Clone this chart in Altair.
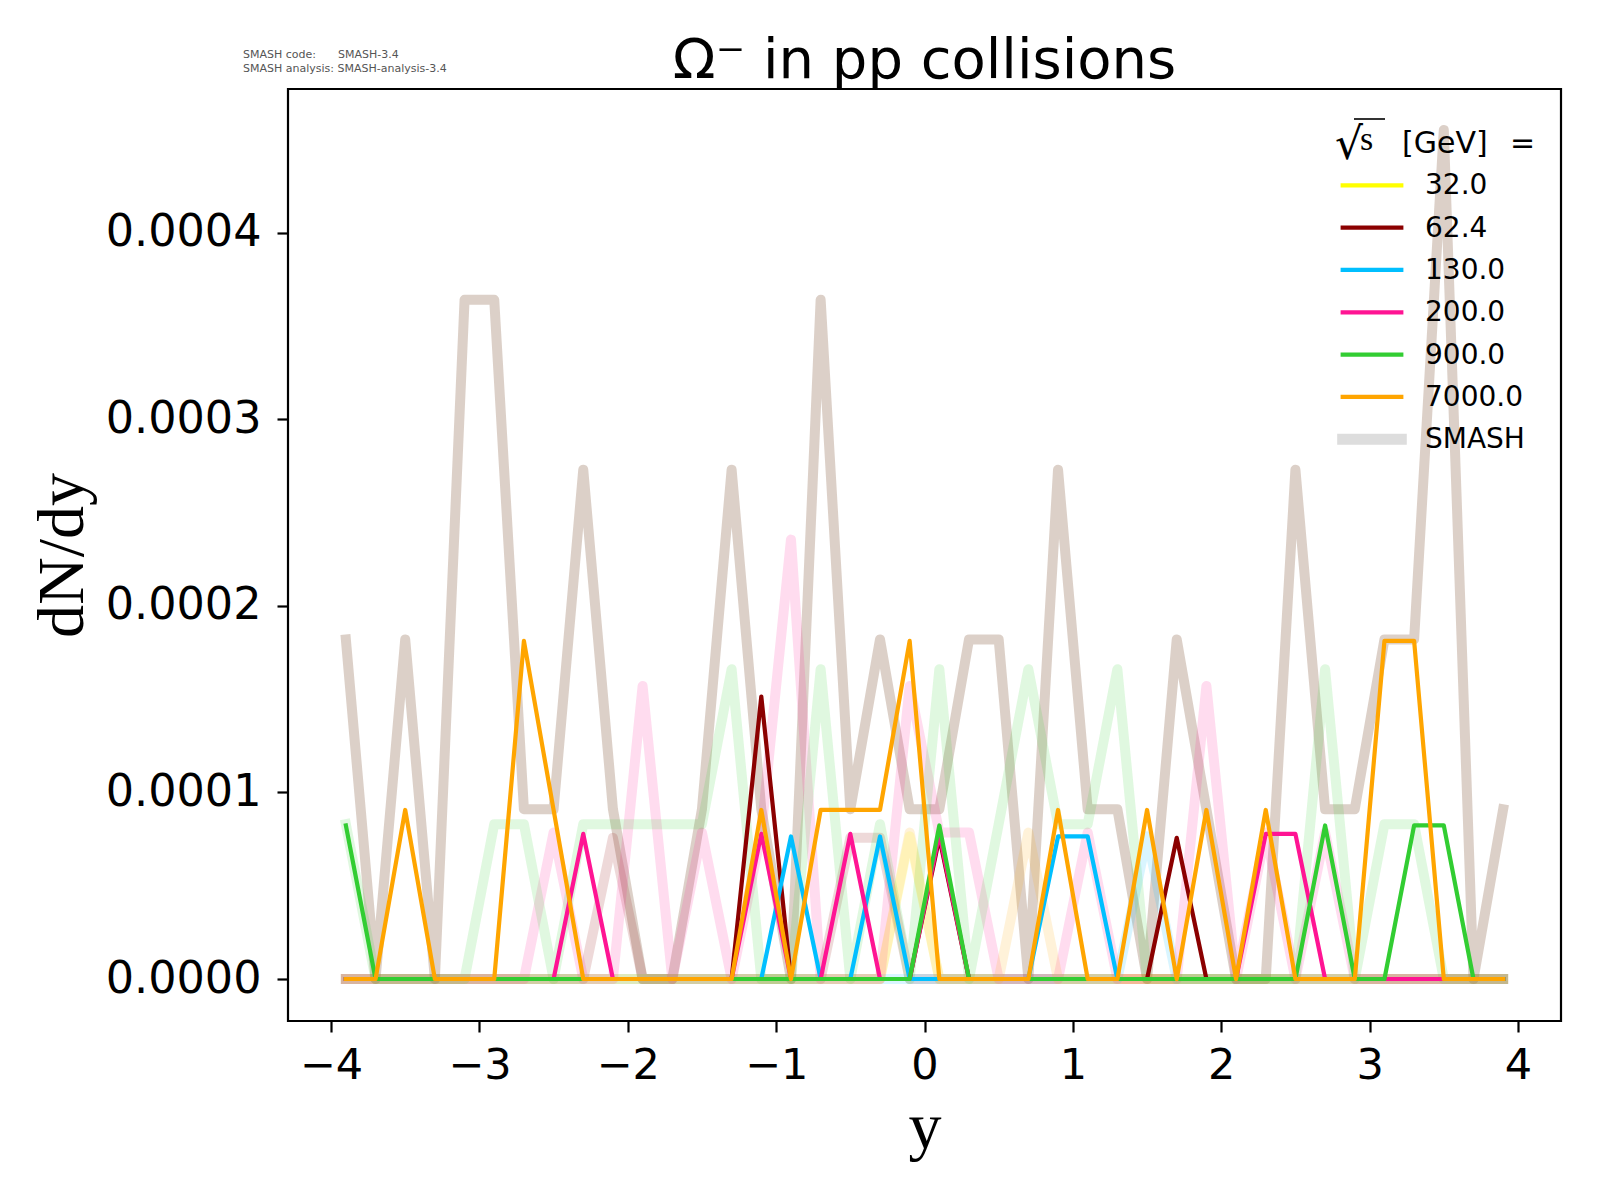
import altair as alt
import pandas as pd

# ---------------- data ----------------
rapidity = [-3.9, -3.7, -3.5, -3.3, -3.1, -2.9, -2.7, -2.5, -2.3, -2.1,
            -1.9, -1.7, -1.5, -1.3, -1.1, -0.9, -0.7, -0.5, -0.3, -0.1,
            0.1, 0.3, 0.5, 0.7, 0.9, 1.1, 1.3, 1.5, 1.7, 1.9,
            2.1, 2.3, 2.5, 2.7, 2.9, 3.1, 3.3, 3.5, 3.7, 3.9]

# thin lines (one per energy)
thin_32 = [0, 0, 0, 0, 0, 0, 0, 0, 0, 0,
           0, 0, 0, 0, 0, 0, 0, 0, 0, 0,
           0, 0, 0, 0, 0, 0, 0, 0, 0, 0,
           0, 0, 0, 0, 0, 0, 0, 0, 0, 0]
thin_62 = [0, 0, 0, 0, 0, 0, 0, 0, 0, 0,
           0, 0, 0, 0, 0.0001514, 0, 0, 0, 0, 0,
           0.0000757, 0, 0, 0, 0, 0, 0, 0, 0.0000757, 0,
           0, 0, 0, 0, 0, 0, 0, 0, 0, 0]
thin_130 = [0, 0, 0, 0, 0, 0, 0, 0, 0, 0,
            0, 0, 0, 0, 0, 0.0000764, 0, 0, 0.0000764, 0,
            0, 0, 0, 0, 0.0000764, 0.0000764, 0, 0, 0, 0,
            0, 0, 0, 0, 0, 0, 0, 0, 0, 0]
thin_200 = [0, 0, 0, 0, 0, 0, 0, 0, 0.0000778, 0,
            0, 0, 0, 0, 0.0000778, 0, 0, 0.0000778, 0, 0,
            0.0000778, 0, 0, 0, 0, 0, 0, 0, 0, 0,
            0, 0.0000778, 0.0000778, 0, 0, 0, 0, 0, 0, 0]
thin_900 = [0.0000823, 0, 0, 0, 0, 0, 0, 0, 0, 0,
            0, 0, 0, 0, 0, 0, 0, 0, 0, 0,
            0.0000823, 0, 0, 0, 0, 0, 0, 0, 0, 0,
            0, 0, 0, 0.0000823, 0, 0, 0.0000823, 0.0000823, 0, 0]
thin_7000 = [0, 0, 0.0000906, 0, 0, 0, 0.0001812, 0.0000906, 0, 0,
             0, 0, 0, 0, 0.0000906, 0, 0.0000906, 0.0000906, 0.0000906, 0.0001812,
             0, 0, 0, 0, 0.0000906, 0, 0, 0.0000906, 0, 0.0000906,
             0, 0.0000906, 0, 0, 0, 0.0001812, 0.0001812, 0, 0, 0]

# thick faded lines
thick_tan = [0.000182, 0, 0.000182, 0, 0.000364, 0.000364, 0.000091, 0.000091, 0.000273, 0.000091,
             0, 0, 0.000091, 0.000273, 0.000091, 0, 0.000364, 0.000091, 0.000182, 0.000091,
             0.000091, 0.000182, 0.000182, 0, 0.000273, 0.000091, 0.000091, 0, 0.000182, 0.000091,
             0, 0, 0.000273, 0.000091, 0.000091, 0.000182, 0.000182, 0.000455, 0, 0.000091]
thick_900 = [0.000083, 0, 0, 0, 0, 0.000083, 0.000083, 0, 0.000083, 0.000083,
             0.000083, 0.000083, 0.000083, 0.000166, 0, 0, 0.000166, 0, 0.000083, 0,
             0.000166, 0, 0.000083, 0.000166, 0.000083, 0.000083, 0.000166, 0, 0, 0,
             0, 0, 0, 0.000166, 0, 0.000083, 0.000083, 0, 0, 0]
thick_200 = [0, 0, 0, 0, 0, 0, 0, 0.0000785, 0, 0,
             0.000157, 0, 0.0000785, 0, 0.0000785, 0.0002355, 0, 0, 0, 0.000157,
             0.0000785, 0.0000785, 0, 0, 0, 0.0000785, 0, 0, 0, 0.000157,
             0, 0.0000785, 0, 0.0000785, 0, 0, 0, 0, 0, 0]
thick_62 = [0, 0, 0, 0, 0, 0, 0, 0, 0, 0.0000757,
            0, 0, 0, 0, 0, 0, 0, 0.0000757, 0.0000757, 0,
            0, 0, 0, 0, 0, 0, 0, 0, 0, 0,
            0, 0, 0, 0, 0, 0, 0, 0, 0, 0]
thick_32 = [0, 0, 0, 0, 0, 0, 0, 0, 0, 0,
            0, 0, 0, 0, 0, 0, 0, 0, 0, 0.0000765,
            0, 0, 0, 0, 0, 0, 0, 0, 0, 0,
            0, 0, 0, 0, 0, 0, 0, 0, 0, 0]
thick_7000 = [0, 0, 0, 0, 0, 0, 0, 0, 0, 0,
              0, 0, 0, 0, 0, 0, 0, 0, 0, 0.0000785,
              0, 0, 0, 0.0000785, 0, 0, 0, 0, 0, 0,
              0, 0, 0, 0, 0, 0, 0, 0, 0, 0]
thick_130 = [0, 0, 0, 0, 0, 0, 0, 0, 0, 0,
             0, 0, 0, 0, 0, 0, 0, 0, 0, 0,
             0, 0, 0, 0, 0, 0, 0, 0.0000765, 0, 0,
             0, 0, 0, 0, 0, 0, 0, 0, 0, 0]

x_ticks = [-4, -3, -2, -1, 0, 1, 2, 3, 4]
y_ticks = [0.0, 0.0001, 0.0002, 0.0003, 0.0004]

legend_labels = ["32.0", "62.4", "130.0", "200.0", "900.0", "7000.0", "SMASH"]
legend_colors = ["#ffff00", "#8b0000", "#00bfff", "#ff1493", "#32cd32", "#ffa500", "#dddddd"]

# ---------------- encodings ----------------
X = alt.X("rapidity:Q",
          scale=alt.Scale(domain=[-4.29, 4.29], nice=False, zero=False),
          axis=alt.Axis(values=x_ticks, format="d", title="y",
                        labelPadding=12, labelFontSize=43, titleX=636.5, titleY=126,
                        titleBaseline="alphabetic", titleAlign="center"))
Y = alt.Y("dNdy:Q",
          scale=alt.Scale(domain=[-0.0000225, 0.000477], nice=False, zero=False),
          axis=alt.Axis(values=y_ticks, format=".4f", title="dN/dy",
                        labelPadding=16, labelFontSize=44.5, titleAngle=270, titleX=-206, titleY=466,
                        titleBaseline="alphabetic", titleAlign="center"))


def line_layer(values, color, width, opacity=1.0):
    df = pd.DataFrame({"rapidity": rapidity, "dNdy": values})
    return alt.Chart(df).mark_line(
        color=color, strokeWidth=width, opacity=opacity,
        strokeCap="square", strokeJoin="round"
    ).encode(x=X, y=Y)


THICK = 10
THIN = 4.2
data_layers = alt.layer(
    line_layer(thick_tan, "#8a6248", THICK, 0.3),
    line_layer(thick_32, "#ffff00", THICK, 0.15),
    line_layer(thick_62, "#8b0000", THICK, 0.15),
    line_layer(thick_130, "#00bfff", THICK, 0.15),
    line_layer(thick_200, "#ff1493", THICK, 0.15),
    line_layer(thick_900, "#32cd32", THICK, 0.15),
    line_layer(thick_7000, "#ffa500", THICK, 0.15),
    line_layer(thin_32, "#ffff00", THIN),
    line_layer(thin_62, "#8b0000", THIN),
    line_layer(thin_130, "#00bfff", THIN),
    line_layer(thin_200, "#ff1493", THIN),
    line_layer(thin_900, "#32cd32", THIN),
    line_layer(thin_7000, "#ffa500", THIN),
)

# ---------------- legend ----------------
legend_df = pd.DataFrame({"label": legend_labels})
LY = alt.Y("label:N",
           scale=alt.Scale(type="point", domain=legend_labels, range=[96.3, 350.3], padding=0),
           axis=None)
LC = alt.Color("label:N", scale=alt.Scale(domain=legend_labels, range=legend_colors), legend=None)
legend_rules = alt.Chart(legend_df).mark_rule(strokeCap="square", strokeWidth=4.2).encode(
    x=alt.value(1054.7), x2=alt.value(1113.3), y=LY, color=LC,
).transform_filter(alt.datum.label != "SMASH")
legend_smash = alt.Chart(legend_df).mark_rule(strokeCap="square", strokeWidth=11).encode(
    x=alt.value(1054.7), x2=alt.value(1113.3), y=LY, color=LC,
).transform_filter(alt.datum.label == "SMASH")
legend_text = alt.Chart(legend_df).mark_text(
    align="left", baseline="middle", font="DejaVu Sans", fontSize=28, color="black", dy=1
).encode(x=alt.value(1137), y=LY, text="label:N")
legend_layer = alt.layer(legend_rules, legend_smash, legend_text)


def label(text, x, y, size, font="DejaVu Sans", color="black", align="left"):
    return alt.Chart(pd.DataFrame({"t": [text]})).mark_text(
        align=align, baseline="alphabetic", font=font, fontSize=size, color=color
    ).encode(x=alt.value(x), y=alt.value(y), text="t:N")


overline = alt.Chart(pd.DataFrame({"t": [1]})).mark_rule(color="black", strokeWidth=1.6).encode(
    x=alt.value(1066), x2=alt.value(1097), y=alt.value(30)
)

annotations = alt.layer(
    label("Ω⁻ in pp collisions", 636.5, -11, 56, align="center"),
    label("SMASH code:", -45, -31, 11, color="#555555"),
    label("SMASH-3.4", 50, -31, 11, color="#555555"),
    label("SMASH analysis: SMASH-analysis-3.4", -45, -17, 11, color="#555555"),
    label("√", 1047, 70, 44),
    label("s", 1072, 61, 34, font="Liberation Serif"),
    overline,
    label("[GeV]", 1114, 64, 30),
    label("=", 1222, 64, 30),
)

chart = alt.layer(data_layers, legend_layer, annotations).resolve_scale(
    y="independent"
).properties(
    width=1273, height=932,
    padding={"left": 280, "top": 81, "right": 30, "bottom": 170},
    autosize=alt.AutoSizeParams(type="none"),
).configure_view(
    stroke="black", strokeWidth=2.2
).configure_axis(
    grid=False, domain=False, ticks=True, tickSize=11, tickWidth=2.2, tickColor="black",
    labelFont="DejaVu Sans", labelColor="black",
    titleFont="Liberation Serif", titleFontSize=66, titleFontWeight="normal", titleColor="black",
)

chart.save("out.html", embed_options={"renderer": "svg", "actions": False})
